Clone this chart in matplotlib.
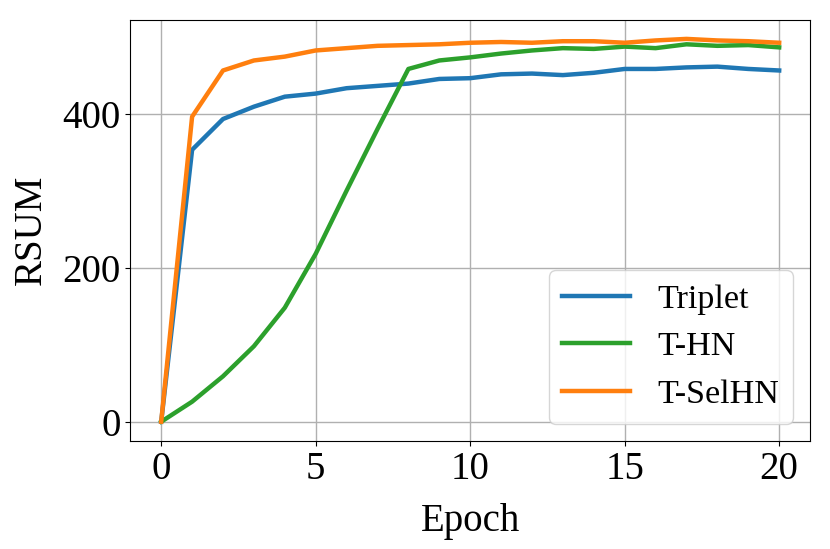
import matplotlib.pyplot as plt
import numpy as np

epochs = list(range(21))

triplet = [0, 353, 393, 409, 422, 426, 433, 436, 439, 445, 446,
           451, 452, 450, 453, 458, 458, 460, 461, 458, 456]
t_hn = [0, 26, 59, 98, 148, 218, 300, 380, 458, 469, 473,
        478, 482, 485, 484, 487, 485, 490, 488, 489, 486]
t_selhn = [0, 396, 456, 469, 474, 482, 485, 488, 489, 490, 492,
           493, 492, 494, 494, 492, 495, 497, 495, 494, 492]

plt.rcParams['font.family'] = ['Liberation Serif', 'DejaVu Serif']
plt.rcParams['font.size'] = 28

fig = plt.figure(figsize=(8.3, 5.49), dpi=100)
ax = fig.add_axes([0.157, 0.197, 0.819, 0.767])

ax.plot(epochs, triplet, color='#1f77b4', linewidth=3.2, label='Triplet')
ax.plot(epochs, t_hn, color='#2ca02c', linewidth=3.2, label='T-HN')
ax.plot(epochs, t_selhn, color='#ff7f0e', linewidth=3.2, label='T-SelHN')

ax.set_xticks([0, 5, 10, 15, 20])
ax.set_yticks([0, 200, 400])
ax.grid(True, color='#b0b0b0', linewidth=1.0)
ax.set_xlabel('Epoch', labelpad=11)
ax.set_ylabel('RSUM', labelpad=9)
ax.legend(loc='lower right', fontsize=24.5)

plt.savefig('out.png')
